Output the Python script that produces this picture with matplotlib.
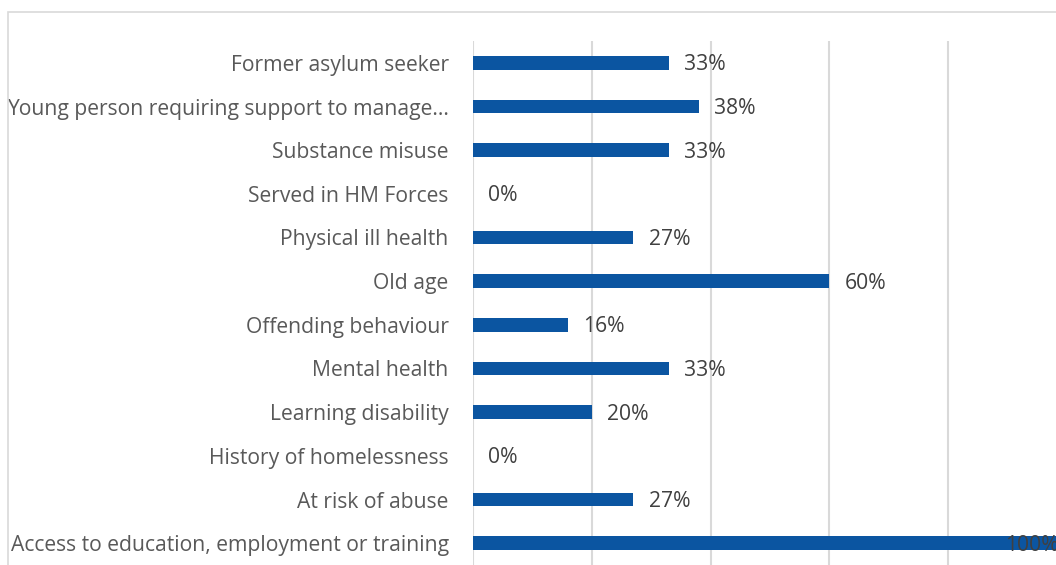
import matplotlib.pyplot as plt
import matplotlib.transforms as mtransforms
from matplotlib.patches import Rectangle

categories = [
    "Former asylum seeker",
    "Young person requiring support to manage...",
    "Substance misuse",
    "Served in HM Forces",
    "Physical ill health",
    "Old age",
    "Offending behaviour",
    "Mental health",
    "Learning disability",
    "History of homelessness",
    "At risk of abuse",
    "Access to education, employment or training",
]
percent = [33, 38, 33, 0, 27, 60, 16, 33, 20, 0, 27, 100]

plt.rcParams["font.family"] = ["Open Sans", "DejaVu Sans"]

fig = plt.figure(figsize=(10.56, 5.65), dpi=100)

# light chart frame, runs off the right and bottom edges
fig.patches.append(Rectangle((8 / 1056, -0.1), 1.1, (565 - 12) / 565 + 0.1,
                             transform=fig.transFigure, fill=False,
                             edgecolor="#d9d9d9", linewidth=1.2))

# plot area is wider than the figure, so the 100% end is cut off
ax = fig.add_axes([473 / 1056, 0, 594 / 1056, (565 - 41) / 565])
ax.set_facecolor("none")

y = range(len(categories))
ax.barh(y, percent, height=0.32, color="#0b55a1", zorder=3)

for i, v in enumerate(percent):
    if v >= 100:
        ax.annotate(f"{v}%", (v, i), xytext=(-6, -1.5), textcoords="offset points",
                    ha="right", va="center", fontsize=15.2, color="#404040", zorder=4)
    else:
        ax.annotate(f"{v}%", (v, i), xytext=(11, -1.5), textcoords="offset points",
                    ha="left", va="center", fontsize=15.2, color="#404040", zorder=4)

ax.set_xlim(0, 100)
ax.set_ylim(-0.5, len(categories) - 0.5)
ax.invert_yaxis()
ax.set_yticks(list(y))
ax.set_yticklabels(categories, fontsize=15.2, color="#595959")
# nudge category labels down a touch
shift = mtransforms.ScaledTranslation(0, -2.5 / 72, fig.dpi_scale_trans)
for lbl in ax.get_yticklabels():
    lbl.set_transform(lbl.get_transform() + shift)
ax.set_xticks([0, 20, 40, 60, 80, 100])
ax.tick_params(axis="x", bottom=False, labelbottom=False)
ax.tick_params(axis="y", left=False, pad=14)
ax.grid(axis="x", color="#d9d9d9", linewidth=1.5, zorder=0)
for s in ax.spines.values():
    s.set_visible(False)

fig.savefig("out.png", dpi=100)
